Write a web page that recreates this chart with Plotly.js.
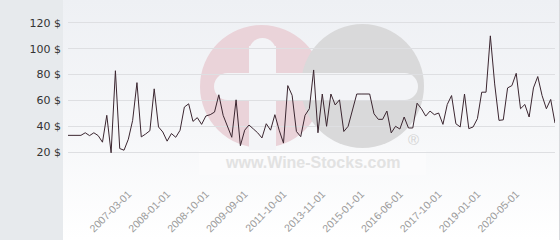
<!DOCTYPE html>
<html>
<head>
<meta charset="utf-8">
<script src="https://cdn.plot.ly/plotly-3.0.1.min.js"></script>
<style>
  html, body { margin: 0; padding: 0; background: #ffffff; }
  #chart { width: 560px; height: 240px; background: linear-gradient(to bottom, #eef0f4 0%, #f6f7f9 55%, #ffffff 100%); }
</style>
</head>
<body>
<div id="chart"></div>
<script>
// Price series (USD), one value per listing date
const prices = [
  33, 33, 33, 33, 35, 32.8, 35, 32.8, 27.7, 48.5,
  19.5, 83, 22.8, 21.5, 30, 44.6, 73.8, 31.8, 34, 36.6,
  69, 39.5, 35.6, 28.5, 34.4, 31.5, 36.9, 54.9, 57.4, 43.8,
  46.7, 41.5, 48, 49, 51, 64.4, 48.5, 40, 31.5, 60.5,
  25, 37, 41, 38, 35, 31, 42, 37, 49, 37,
  27, 71.5, 64, 36, 32, 48.5, 53.6, 83.6, 35, 65,
  40, 65, 56.5, 60.5, 36, 40, 52, 65, 65, 65,
  65, 49.7, 45.4, 45.4, 51.8, 34.9, 40, 37.9, 47.2, 38.7,
  38.7, 57.9, 53.6, 47.9, 51.8, 49, 50.3, 41.5, 56.9, 63.8,
  42, 39.5, 65, 38.2, 39.5, 45.9, 66.4, 66.4, 110, 72.8,
  44.6, 45, 69.7, 71.5, 81, 53.6, 56.9, 47.2, 69.7, 78.5,
  63.8, 53.6, 60.8, 42.5
];

// Dated tick labels and the point index each one belongs to
const tickLabels = ['2007-03-01', '2008-01-01', '2008-10-01', '2009-09-01', '2011-10-01',
                    '2013-11-01', '2015-01-01', '2016-06-01', '2017-10-01', '2019-01-01', '2020-05-01'];
const tickIndex = [14, 23, 32, 41, 50, 59, 68, 77, 86, 95, 104];

// Y-axis ticks
const yTickValues = [20, 40, 60, 80, 100, 120];
const yTickLabels = ['20 $', '40 $', '60 $', '80 $', '100 $', '120 $'];

const W = 560, H = 240;
const M = { l: 68, r: 5, t: 10, b: 62 };
const pw = W - M.l - M.r, ph = H - M.t - M.b;
// helpers to convert pixel positions into paper coordinates (for decoration)
const px = x => (x - M.l) / pw;
const py = y => 1 - (y - M.t) / ph;

const shapes = [
  // grey left panel
  { type: 'rect', xref: 'paper', yref: 'paper', x0: px(0), x1: px(63), y0: py(H), y1: py(0),
    fillcolor: '#e7eaed', line: { width: 0 }, layer: 'below' },
  // right border line
  { type: 'line', xref: 'paper', yref: 'paper', x0: px(559.5), x1: px(559.5), y0: py(H), y1: py(0),
    line: { color: '#d8dadd', width: 1 }, layer: 'below' },
  // watermark: pink circle
  { type: 'circle', xref: 'paper', yref: 'paper', x0: px(200), x1: px(323), y0: py(148), y1: py(25),
    fillcolor: '#ead3d9', line: { width: 0 }, layer: 'below' },
  // watermark: grey circle
  { type: 'circle', xref: 'paper', yref: 'paper', x0: px(301), x1: px(424), y0: py(148), y1: py(24),
    fillcolor: '#d9d9da', line: { width: 0 }, layer: 'below' },
  // white vertical bar of plus
  { type: 'rect', xref: 'paper', yref: 'paper', x0: px(249), x1: px(276), y0: py(150), y1: py(46),
    fillcolor: '#f3f4f7', line: { width: 0 }, layer: 'below' },
  { type: 'circle', xref: 'paper', yref: 'paper', x0: px(249), x1: px(276), y0: py(65), y1: py(38),
    fillcolor: '#f3f4f7', line: { width: 0 }, layer: 'below' },
  // white horizontal bar (plus + minus)
  { type: 'rect', xref: 'paper', yref: 'paper', x0: px(227), x1: px(405), y0: py(100), y1: py(73),
    fillcolor: '#f3f4f7', line: { width: 0 }, layer: 'below' },
  { type: 'circle', xref: 'paper', yref: 'paper', x0: px(214), x1: px(241), y0: py(100), y1: py(73),
    fillcolor: '#f3f4f7', line: { width: 0 }, layer: 'below' },
  { type: 'circle', xref: 'paper', yref: 'paper', x0: px(391), x1: px(418), y0: py(100), y1: py(73),
    fillcolor: '#f3f4f7', line: { width: 0 }, layer: 'below' },
  // white band behind the url
  { type: 'rect', xref: 'paper', yref: 'paper', x0: px(199), x1: px(426), y0: py(175), y1: py(151),
    fillcolor: '#fbfbfc', line: { width: 0 }, layer: 'below' }
];

const annotations = [
  { xref: 'paper', yref: 'paper', x: px(312), y: py(162), text: 'www.Wine-Stocks.com', showarrow: false,
    font: { family: 'Liberation Sans, Arial, sans-serif', size: 16, color: '#e2e2e2', weight: 'bold' },
    xanchor: 'center', yanchor: 'middle' },
  { xref: 'paper', yref: 'paper', x: px(413), y: py(139), text: '®', showarrow: false,
    font: { family: 'Liberation Sans, Arial, sans-serif', size: 15, color: '#d4d4d4' },
    xanchor: 'center', yanchor: 'middle' }
];

const trace = {
  type: 'scatter',
  mode: 'lines',
  y: prices,
  line: { color: '#3b2630', width: 1 },
  hoverinfo: 'skip'
};

const layout = {
  width: W, height: H,
  margin: M,
  paper_bgcolor: 'rgba(0,0,0,0)',
  plot_bgcolor: 'rgba(0,0,0,0)',
  showlegend: false,
  xaxis: {
    range: [0, prices.length - 1],
    tickmode: 'array', tickvals: tickIndex, ticktext: tickLabels,
    tickangle: -45,
    showgrid: false, zeroline: false, showline: false,
    ticks: '',
    ticklabelstandoff: 7,
    tickfont: { family: 'Liberation Sans, Arial, sans-serif', size: 10.5, color: '#9a9a9a' }
  },
  yaxis: {
    range: [0, 130],
    tickmode: 'array', tickvals: [0].concat(yTickValues), ticktext: [''].concat(yTickLabels),
    showgrid: true, gridcolor: '#dedfe2', gridwidth: 1,
    zeroline: false, showline: false, ticks: '',
    ticklabelstandoff: 6,
    tickfont: { family: 'DejaVu Sans, sans-serif', size: 11, color: '#333333' }
  },
  shapes: shapes,
  annotations: annotations
};

Plotly.newPlot('chart', [trace], layout, { displayModeBar: false, staticPlot: true });
</script>
</body>
</html>
